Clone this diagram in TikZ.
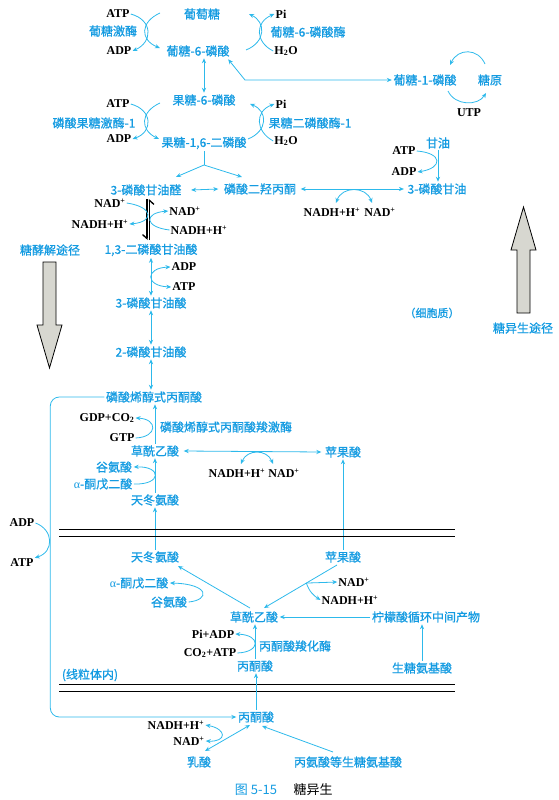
\documentclass[tikz,border=0pt]{standalone}
\usepackage{fontspec}
\setmainfont{Liberation Serif}
\newfontfamily\cjk[FakeBold=0.9]{Noto Sans CJK SC}
\newfontfamily\cjkcap{Noto Sans CJK SC}
\usetikzlibrary{arrows.meta,calc}
\definecolor{tblue}{RGB}{20,155,225}
\definecolor{lblue}{RGB}{45,185,235}
\definecolor{agray}{RGB}{215,215,208}
\begin{document}
\begin{tikzpicture}[x=1pt,y=-1pt,>={Stealth[length=5pt,width=4.2pt]},
 bt/.style={text=tblue,font=\cjk\fontsize{12}{14}\selectfont,inner sep=1.5pt},
 kt/.style={text=black,font=\bfseries\fontsize{12}{13}\selectfont,inner sep=1pt},
 ar/.style={draw=lblue,line width=0.8pt,->},
 dar/.style={draw=lblue,line width=0.8pt,<->},
 ln/.style={draw=lblue,line width=0.8pt},
 mem/.style={draw=black,line width=0.9pt},
 bigarr/.style={draw=black,fill=agray,line width=0.8pt,line join=miter},
 blk/.style={draw=black,line width=1.3pt}]
\useasboundingbox (0,0) rectangle (559,800);

% ---------- nodes: top ----------
\node[bt] (glc) at (202,14) {葡萄糖};
\node[bt] (g6p) at (198,51) {葡糖-6-磷酸};
\node[kt] (atp1) at (118,14) {ATP};
\node[bt] (gk) at (113,31) {葡糖激酶};
\node[kt] (adp1) at (119,51) {ADP};
\node[kt] (pi1) at (281,14) {Pi};
\node[bt] (g6pase) at (308,32) {葡糖-6-磷酸酶};
\node[kt] (h2o1) at (286,51) {H\textsubscript{2}O};
\node[bt] (g1p) at (425,80) {葡糖-1-磷酸};
\node[bt] (glycogen) at (490,80) {糖原};
\node[kt] (utp) at (469,113) {UTP};
\node[bt] (f6p) at (204,100) {果糖-6-磷酸};
\node[kt] (atp2) at (118,104) {ATP};
\node[bt] (pfk) at (94,123) {磷酸果糖激酶-1};
\node[kt] (adp2) at (119,139) {ADP};
\node[bt] (f16bp) at (204,143) {果糖-1,6-二磷酸};
\node[kt] (pi2) at (281,104) {Pi};
\node[bt] (fbpase) at (310,123) {果糖二磷酸酶-1};
\node[kt] (h2o2) at (286,141) {H\textsubscript{2}O};

% ---------- triose ----------
\node[bt] (gap) at (146,190) {3-磷酸甘油醛};
\node[bt] (dhap) at (260,189) {磷酸二羟丙酮};
\node[bt] (g3p) at (437,189) {3-磷酸甘油};
\node[bt] (glycerol) at (438,143) {甘油};
\node[kt] (atp3) at (404,151) {ATP};
\node[kt] (adp3) at (404,172) {ADP};
\node[kt] (nadh1) at (332,212) {NADH+H\textsuperscript{+}};
\node[kt] (nad1) at (380,212) {NAD\textsuperscript{+}};
\node[kt] (nadL) at (110,203) {NAD\textsuperscript{+}};
\node[kt] (nadhL) at (100,224) {NADH+H\textsuperscript{+}};
\node[kt] (nadR) at (185,211) {NAD\textsuperscript{+}};
\node[kt] (nadhR) at (199,230) {NADH+H\textsuperscript{+}};
\node[bt] (bpg) at (151,250) {1,3-二磷酸甘油酸};
\node[kt] (adp4) at (184,267) {ADP};
\node[kt] (atp4) at (184,287) {ATP};
\node[bt] (pg3) at (151,303) {3-磷酸甘油酸};
\node[bt] (pg2) at (151,352) {2-磷酸甘油酸};
\node[bt] (pep) at (154,397) {磷酸烯醇式丙酮酸};
\node[kt] (gdp) at (107,418) {GDP+CO\textsubscript{2}};
\node[kt] (gtp) at (122,438) {GTP};
\node[bt] (pepck) at (226,427) {磷酸烯醇式丙酮酸羧激酶};
\node[bt] (oaa1) at (155,451) {草酰乙酸};
\node[bt] (mal1) at (343,452) {苹果酸};
\node[kt] (nadh2) at (237,473) {NADH+H\textsuperscript{+}};
\node[kt] (nad2) at (284,473) {NAD\textsuperscript{+}};
\node[bt] (glu1) at (114,467) {谷氨酸};
\node[bt] (akg1) at (103,484) {{\rmfamily α}-酮戊二酸};
\node[bt] (asp1) at (155,500) {天冬氨酸};

% ---------- mitochondrion ----------
\node[bt] (asp2) at (155,557) {天冬氨酸};
\node[bt] (mal2) at (343,557) {苹果酸};
\node[bt] (akg2) at (139,583) {{\rmfamily α}-酮戊二酸};
\node[bt] (glu2) at (169,602) {谷氨酸};
\node[kt] (nad3) at (354,582) {NAD\textsuperscript{+}};
\node[kt] (nadh3) at (350,600) {NADH+H\textsuperscript{+}};
\node[bt] (oaa2) at (254,617) {草酰乙酸};
\node[bt] (tca) at (426,617) {柠檬酸循环中间产物};
\node[bt] (pcx) at (295,646) {丙酮酸羧化酶};
\node[kt] (piadp) at (213,634) {Pi+ADP};
\node[kt] (co2atp) at (210,653) {CO\textsubscript{2}+ATP};
\node[bt] (pyr1) at (255,666) {丙酮酸};
\node[bt] (gaa) at (422,668) {生糖氨基酸};
\node[bt] (mito) at (90,675) {(线粒体内)};

% ---------- bottom ----------
\node[bt] (pyr2) at (256,717) {丙酮酸};
\node[kt] (nadh4) at (176,725) {NADH+H\textsuperscript{+}};
\node[kt] (nad4) at (189,741) {NAD\textsuperscript{+}};
\node[bt] (lac) at (199,762) {乳酸};
\node[bt] (ala) at (348,762) {丙氨酸等生糖氨基酸};
\node[kt] (adp5) at (22,523) {ADP};
\node[kt] (atp5) at (22,563) {ATP};

% ---------- side labels ----------
\node[bt,font=\cjk\fontsize{11}{13}\selectfont] (cyto) at (432,313) {（细胞质）};
\node[bt] (glyco) at (50,250) {糖酵解途径};
\node[bt] (gng) at (523,328) {糖异生途径};
\node[text=tblue,font=\cjkcap\fontsize{13}{15}\selectfont] (cap1) at (256,790) {图 5-15};
\node[font=\cjkcap\fontsize{13}{15}\selectfont] (cap2) at (313,790) {糖异生};

% ---------- connectors: glucose / fructose ----------
\draw[ar] (atp1.east) .. controls (153,20) and (153,42) .. (adp1.east);
\draw[ar] ($(glc)+(-42,-1)$) .. controls (140,22) and (140,40) .. ($(g6p)+(-38,-3)$);
\draw[ar] ($(g6p)+(48,-1)$) .. controls (266,42) and (266,22) .. ($(glc)+(47,0)$);
\draw[ar] (h2o1.west) .. controls (255,42) and (255,22) .. (pi1.west);
\draw[dar] (g6p.south -| f6p) -- (f6p.north);
\coordinate (bendA) at ($(g1p)+(-180,0)$);
\draw[dar] ($(g6p.south east)+(-3,1)$) -- (bendA) -- (g1p.west);
\draw[ar] ($(glycogen)+(-5,-16)$) .. controls (478,48) and (458,48) .. ($(g1p)+(25,-15)$);
\draw[ar] ($(g1p)+(23,11)$) .. controls (455,106) and (478,106) .. ($(glycogen)+(-4,13)$);

\draw[ar] (atp2.east) .. controls (153,110) and (153,132) .. (adp2.east);
\draw[ar] ($(f6p)+(-44,3)$) .. controls (140,112) and (140,130) .. ($(f16bp)+(-45,-4)$);
\draw[ar] ($(f16bp)+(44,-4)$) .. controls (268,131) and (268,111) .. ($(f6p)+(46,4)$);
\draw[ar] (h2o2.west) .. controls (255,131) and (255,111) .. (pi2.west);

% ---------- triose ----------
\coordinate (split) at ($(f16bp)+(0,22)$);
\draw[ln] (f16bp.south) -- (split);
\draw[ar] (split) -- ($(gap)+(30,-13)$);
\draw[ar] (split) -- ($(dhap)+(-18,-12)$);
\draw[dar] ($(gap.east)+(8,0)$) -- ($(dhap.west)+(-4,0)$);
\draw[dar] ($(dhap.east)+(3,0)$) -- ($(g3p.west)+(-2,0)$);
\draw[dar] ($(nadh1)+(4,-9)$) .. controls (342,186) and (366,186) .. ($(nad1)+(-8,-9)$);
\draw[ar] (glycerol.south) -- (glycerol.south |- g3p.north);
\draw[ar] (atp3.east) .. controls (443,153) and (443,168) .. (adp3.east);

\draw[blk,-{Straight Barb[right,length=4pt,width=9pt]}] ($(gap)+(1,9)$) -- ($(bpg)+(-4,-10)$);
\draw[blk,-{Straight Barb[right,length=4pt,width=9pt]}] ($(bpg)+(-1.5,-10)$) -- ($(gap)+(3.5,9)$);
\draw[ar] (nadL.east) .. controls (154,207) and (154,222) .. (nadhL.east);
\draw[ar] (nadhR.west) .. controls (144,227) and (144,213) .. (nadR.west);

\draw[dar] (bpg.south) -- (bpg.south |- pg3.north);
\draw[dar] (adp4.west) .. controls (145,268) and (145,286) .. (atp4.west);
\draw[dar] (pg3.south) -- (pg3.south |- pg2.north);
\draw[dar] (pg2.south) -- (pg2.south |- pep.north);

% ---------- PEP / OAA ----------
\draw[ar,rounded corners=9pt] (pep.west) -- ($(pep.west)+(-54,0)$) |- (pyr2.west);
\draw[ar] (adp5.east) .. controls (54,530) and (54,552) .. (atp5.north east);
\draw[ar] (gtp.east) .. controls (158,437) and (158,419) .. (gdp.east);
\draw[ar] (oaa1.north) -- (oaa1.north |- pep.south);
\draw[dar] ($(oaa1.east)+(3,0)$) -- ($(mal1.west)+(-2,0)$);
\draw[dar] ($(nadh2)+(4,-9)$) .. controls (247,449) and (267,449) .. ($(nad2)+(-11,-9)$);
\draw[ar] (mal2.north) -- (mal2.north |- mal1.south);
\draw[ar] (asp1.north) -- (oaa1.south);
\draw[ar] (akg1.east) .. controls (162,485) and (162,466) .. (glu1.east);
\draw[ar] (asp2.north) -- (asp2.north |- asp1.south);

% membranes
\draw[mem] (59,529) -- (455,529);
\draw[mem] (59,536) -- (455,536);
\draw[mem] (59,684) -- (455,684);
\draw[mem] (59,691) -- (455,691);

% ---------- mitochondrion connectors ----------
\draw[ar] ($(oaa2)+(-4,-9)$) -- ($(asp2)+(23,9)$);
\draw[ar] (glu2.east) .. controls (210,600) and (210,584) .. (akg2.east);
\coordinate (m2s) at ($(mal2)+(-6,8)$);
\coordinate (o2e) at ($(oaa2)+(10,-9)$);
\draw[ar] (m2s) -- (o2e);
\coordinate (brp) at ($(m2s)!0.42!(o2e)$);
\draw[ar] (brp) -- (nad3.west);
\draw[ar] (brp) .. controls ($(brp)+(3,9)$) and ($(brp)+(8,13)$) .. (nadh3.west);
\draw[ar] (tca.west) -- (oaa2.east);
\draw[ar] (gaa.north) -- (gaa.north |- tca.south);
\draw[ar] (pyr1.north) -- (pyr1.north |- oaa2.south);
\draw[ar] (co2atp.east) .. controls (261,652) and (261,635) .. (piadp.east);
\draw[ar] (pyr2.north) -- (pyr2.north |- pyr1.south);

% ---------- bottom ----------
\draw[dar] ($(lac)+(6,-11)$) -- ($(pyr2)+(-6,8)$);
\draw[ar] ($(ala)+(-15,-10)$) -- ($(pyr2)+(6,9)$);
\draw[dar] (nad4.east) .. controls (227,742) and (227,729) .. (nadh4.east);

% ---------- big arrows ----------
\draw[bigarr] (43,262) -- (56,262) -- (56,325) -- (62,325) -- (49.5,368) -- (37,325) -- (43,325) -- cycle;
\draw[bigarr] (517,313) -- (530,313) -- (530,250) -- (536,250) -- (523.5,207) -- (511,250) -- (517,250) -- cycle;
\end{tikzpicture}
\end{document}
